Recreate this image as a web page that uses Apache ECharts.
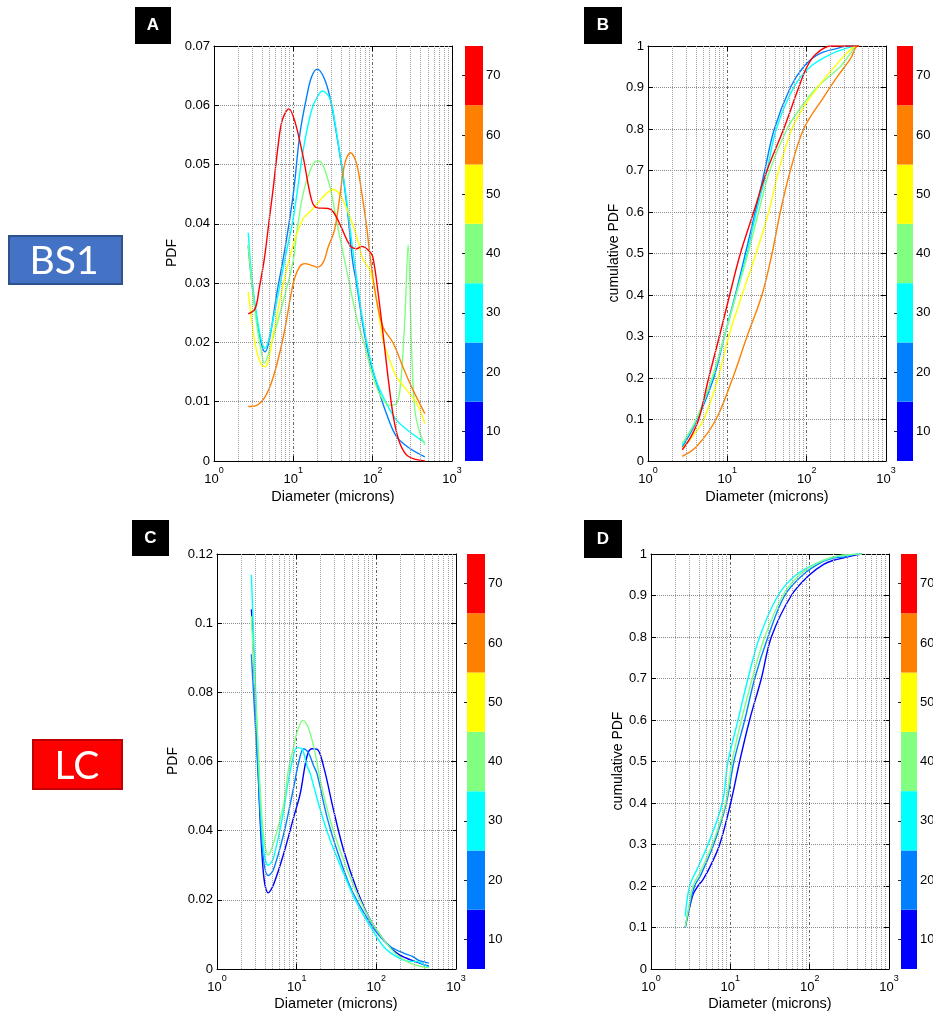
<!DOCTYPE html>
<html><head><meta charset="utf-8">
<script src="https://cdn.jsdelivr.net/npm/echarts@6/dist/echarts.min.js"></script>
<style>html,body{margin:0;padding:0;background:#fff}#c{width:933px;height:1015px}</style>
</head><body><div id="c"></div>
<script>
// ---------------- DATA ----------------
const levels = ['10','20','30','40','50','60','70'];
const levelColors = ['#0000ff','#0080ff','#00ffff','#80ff80','#ffff00','#ff8000','#ff0000'];
const minorGridX = [2,3,4,5,6,7,8,9,20,30,40,50,60,70,80,90,200,300,400,500,600,700,800,900];

// Panel A (BS1, PDF)
const pdfA_20 = [[2.7,0.0363],[3.0,0.030],[3.5,0.0235],[4.0,0.0195],[4.4,0.0184],[5.0,0.0205],[6.2,0.0283],[7.8,0.0356],[10,0.0451],[12.1,0.0552],[14.7,0.0614],[17,0.0648],[20,0.0661],[24,0.0648],[28.9,0.0614],[35,0.0552],[42.5,0.0479],[49,0.0412],[55.6,0.0339],[62.5,0.030],[76,0.0226],[92,0.017],[112,0.0131],[149,0.008],[200,0.0041],[295,0.0021],[455,0.0007]];
const pdfA_30 = [[2.7,0.0385],[3.0,0.031],[3.5,0.024],[4.0,0.020],[4.4,0.019],[5.0,0.021],[6.2,0.027],[7.8,0.034],[10,0.041],[13.3,0.0524],[17,0.0592],[20,0.0614],[23.3,0.0624],[29,0.0611],[33,0.0575],[38,0.0524],[44.6,0.0462],[51.5,0.0395],[62.5,0.031],[76,0.0232],[92,0.0176],[112,0.0134],[149,0.0097],[200,0.0069],[295,0.0049],[455,0.0031]];
const pdfA_40 = [[2.7,0.0365],[3.0,0.030],[3.5,0.0225],[4.0,0.018],[4.3,0.0165],[5.0,0.0187],[7.5,0.0271],[10,0.0339],[11,0.0384],[13.3,0.0451],[17,0.0496],[20,0.0506],[23,0.0502],[29,0.0462],[35,0.0406],[42.5,0.035],[49,0.031],[62.5,0.0243],[80,0.0193],[101,0.0142],[128,0.0108],[164,0.0094],[200,0.0097],[225,0.013],[255,0.0243],[280,0.0365],[310,0.0187],[340,0.0086],[390,0.0049],[455,0.0027]];
const pdfA_50 = [[2.7,0.0285],[3.3,0.0198],[3.86,0.0165],[4.4,0.0159],[5.6,0.0215],[7.5,0.030],[10,0.0365],[13.3,0.0409],[17,0.0423],[20,0.0434],[26,0.0451],[32,0.0458],[40,0.0446],[51.5,0.0412],[65,0.0372],[76,0.0339],[92,0.0322],[112,0.0271],[135,0.0204],[164,0.017],[200,0.0142],[268,0.012],[360,0.0097],[455,0.0063]];
const pdfA_60 = [[2.7,0.0092],[3.45,0.0094],[4.4,0.0108],[5.6,0.0142],[7.5,0.021],[10,0.030],[12,0.0328],[14,0.0333],[17,0.033],[20,0.0327],[24,0.0336],[27.5,0.0361],[33,0.0389],[38,0.044],[44.6,0.0502],[52.5,0.052],[62.5,0.0502],[72,0.0457],[84,0.0395],[94,0.0339],[112,0.0271],[135,0.0226],[183,0.0198],[240,0.0159],[322,0.012],[455,0.008]];
const pdfA_70 = [[2.7,0.0248],[3.3,0.0257],[3.7,0.029],[4.3,0.034],[5.0,0.041],[5.6,0.0462],[6.4,0.053],[7.25,0.0575],[8.8,0.0594],[10.5,0.0572],[13.3,0.0513],[17,0.044],[20,0.0427],[27.5,0.0426],[32,0.042],[40,0.0395],[51.5,0.0364],[62.5,0.0358],[73,0.0362],[89,0.0355],[100,0.0345],[118,0.028],[135,0.0215],[160,0.013],[185,0.007],[220,0.003],[280,0.0008],[455,0.0]];

// Panel B (BS1, cumulative PDF)
const cdfB_20 = [[2.7,0.033],[4.07,0.095],[6.73,0.2],[9.17,0.3],[12.6,0.4],[16.9,0.5],[22.5,0.6],[29.6,0.7],[39.1,0.8],[62.3,0.9],[91.6,0.95],[140,0.98],[250,0.995],[322,1.0],[455,1.0]];
const cdfB_30 = [[2.7,0.038],[4.07,0.1],[6.5,0.2],[9.17,0.3],[12.8,0.4],[17.7,0.5],[23.2,0.6],[31.6,0.7],[41.5,0.8],[68.6,0.9],[111,0.95],[200,0.98],[300,0.993],[431,1.0],[455,1.0]];
const cdfB_40 = [[2.7,0.042],[4.07,0.1],[6.41,0.2],[9.17,0.3],[12.9,0.4],[18.2,0.5],[24.8,0.6],[34.2,0.7],[56.5,0.8],[83,0.85],[134,0.9],[265,0.95],[350,0.98],[431,1.0],[455,1.0]];
const cdfB_50 = [[2.7,0.031],[3.5,0.055],[5.03,0.1],[7.63,0.2],[10.4,0.3],[15.3,0.4],[23.0,0.5],[33.2,0.6],[44.4,0.7],[65,0.8],[91.6,0.853],[149,0.909],[241,0.957],[350,0.99],[431,1.0],[455,1.0]];
const cdfB_60 = [[2.7,0.011],[4.1,0.035],[7.19,0.1],[11.7,0.2],[17.7,0.3],[27.3,0.4],[36.6,0.5],[46.5,0.6],[62.3,0.7],[91.6,0.8],[164,0.877],[241,0.925],[355,0.969],[439,1.0],[455,1.0]];
const cdfB_70 = [[2.7,0.027],[3.4,0.055],[4.35,0.1],[5.82,0.2],[7.93,0.3],[10.7,0.4],[14.6,0.5],[21.5,0.6],[31.6,0.7],[51.3,0.8],[79.3,0.9],[101,0.95],[130,0.98],[199,1.0],[455,1.0]];

// Panel C (LC, PDF)
const pdfC_10 = [[2.7,0.104],[2.8,0.098],[3.25,0.06],[3.78,0.029],[4.4,0.022],[5.1,0.0243],[6.9,0.0335],[9.2,0.044],[11.1,0.0508],[13.5,0.0616],[15.5,0.0637],[18,0.0636],[21.8,0.0585],[29,0.046],[38.8,0.0344],[57,0.0229],[84,0.0142],[123,0.0085],[181,0.0046],[265,0.0027],[390,0.0013],[455,0.0008]];
const pdfC_20 = [[2.7,0.091],[3.25,0.058],[3.78,0.033],[4.4,0.027],[5.1,0.0287],[6.9,0.0392],[9.2,0.0527],[10.6,0.0597],[12.2,0.0637],[14,0.0626],[16.3,0.0588],[18,0.0565],[24,0.044],[32,0.0344],[47,0.0238],[70,0.0162],[102,0.0104],[150,0.0065],[220,0.0046],[280,0.0037],[340,0.0025],[455,0.0017]];
const pdfC_30 = [[2.7,0.114],[3.25,0.065],[3.78,0.036],[4.4,0.030],[5.1,0.032],[6.9,0.046],[7.6,0.0525],[8.8,0.060],[10.1,0.064],[11.7,0.0636],[13.5,0.0587],[14.8,0.0565],[19.8,0.046],[26.3,0.0373],[38.8,0.0277],[57,0.019],[84,0.0123],[123,0.0065],[181,0.0035],[265,0.0022],[300,0.0022],[455,0.0005]];
const pdfC_40 = [[2.7,0.102],[3.25,0.066],[3.78,0.04],[4.4,0.033],[5.1,0.0363],[6.9,0.0479],[7.9,0.0578],[9.2,0.0645],[10.1,0.0684],[12,0.0719],[14,0.0698],[17,0.0626],[19.8,0.0546],[26.3,0.0431],[38.8,0.0315],[57,0.0219],[84,0.0142],[123,0.0085],[181,0.0041],[265,0.0017],[390,0.0006],[455,0.0004]];

// Panel D (LC, cumulative PDF)
const cdfD_10 = [[2.7,0.099],[3.0,0.14],[3.4,0.18],[3.91,0.2],[4.5,0.215],[5.5,0.245],[7.34,0.3],[10.1,0.4],[13.1,0.5],[17.5,0.6],[24.6,0.7],[32.9,0.8],[58.7,0.9],[100,0.95],[150,0.975],[200,0.985],[263,0.99],[390,0.998],[455,1.0]];
const cdfD_20 = [[2.7,0.1],[3.0,0.145],[3.55,0.2],[4.2,0.225],[6.17,0.3],[8.91,0.4],[11.1,0.5],[15.2,0.6],[20.3,0.7],[29.8,0.8],[48.4,0.9],[82.4,0.95],[140,0.98],[200,0.99],[280,0.993],[350,0.998],[455,1.0]];
const cdfD_30 = [[2.7,0.127],[3.07,0.2],[3.8,0.24],[5.23,0.3],[7.93,0.4],[9.35,0.5],[12.5,0.6],[16.7,0.7],[23.4,0.8],[39.9,0.9],[67.9,0.95],[130,0.98],[220,0.994],[350,0.999],[455,1.0]];
const cdfD_40 = [[2.7,0.1],[3.0,0.15],[3.38,0.2],[4.2,0.235],[5.93,0.3],[8.73,0.4],[10.5,0.5],[13.8,0.6],[18.9,0.7],[27.1,0.8],[46.1,0.9],[74.8,0.95],[130,0.98],[220,0.995],[350,0.999],[455,1.0]];

const yMaxA = 0.07, yStepA = 0.01;
const yMaxB = 1, yStepB = 0.1;
const yMaxC = 0.12, yStepC = 0.02;
const yMaxD = 1, yStepD = 0.1;
const xLabel = 'Diameter (microns)';

// ---------------- LAYOUT ----------------
const FONT = '"Liberation Sans", Arial, Helvetica, sans-serif';
const panels = [
  {letter:'A', box:[135,7,36,37], grid:{left:214,top:46,width:238,height:415}, cb:{left:465,top:46,width:18,height:415},
   yMax:yMaxA, yStep:yStepA, yName:'PDF', yNamePos:[172,253], xNamePos:[333,497],
   series:[[1,pdfA_20],[2,pdfA_30],[3,pdfA_40],[4,pdfA_50],[5,pdfA_60],[6,pdfA_70]]},
  {letter:'B', box:[584,7,38,37], grid:{left:648,top:46,width:238,height:415}, cb:{left:897,top:46,width:16,height:415},
   yMax:yMaxB, yStep:yStepB, yName:'cumulative PDF', yNamePos:[614,253], xNamePos:[767,497],
   series:[[1,cdfB_20],[2,cdfB_30],[3,cdfB_40],[4,cdfB_50],[5,cdfB_60],[6,cdfB_70]]},
  {letter:'C', box:[132,520,37,36], grid:{left:217,top:554,width:239,height:415}, cb:{left:467,top:554,width:18,height:415},
   yMax:yMaxC, yStep:yStepC, yName:'PDF', yNamePos:[173,761], xNamePos:[336,1004],
   series:[[0,pdfC_10],[1,pdfC_20],[2,pdfC_30],[3,pdfC_40]]},
  {letter:'D', box:[584,520,38,38], grid:{left:651,top:554,width:238,height:415}, cb:{left:901,top:554,width:16,height:415},
   yMax:yMaxD, yStep:yStepD, yName:'cumulative PDF', yNamePos:[618,761], xNamePos:[770,1004],
   series:[[0,cdfD_10],[1,cdfD_20],[2,cdfD_30],[3,cdfD_40]]}
];

const option = {backgroundColor:'#fff', animation:false, textStyle:{fontFamily:FONT},
  grid:[], xAxis:[], yAxis:[], series:[], graphic:[]};

const tickStyle = {show:true, inside:true, length:5, lineStyle:{color:'#000', width:1}};
const lineAx = {show:true, onZero:false, lineStyle:{color:'#000', width:1}};

panels.forEach(p => {
  const gMain = option.grid.length;
  option.grid.push(Object.assign({show:false, outerBoundsMode:'none'}, p.grid));
  const gCb = option.grid.length;
  option.grid.push(Object.assign({show:false, outerBoundsMode:'none'}, p.cb));

  const xB = option.xAxis.length;
  option.xAxis.push({type:'log', logBase:10, min:1, max:1000, gridIndex:gMain, position:'bottom',
    axisLine:lineAx, axisTick:tickStyle,
    axisLabel:{show:true, margin:5, color:'#000', fontFamily:FONT,
      formatter: v => '{b|10}{s|' + Math.round(Math.log10(v)) + '}',
      rich:{b:{fontSize:13, color:'#000', fontFamily:FONT}, s:{fontSize:9, color:'#000', fontFamily:FONT, padding:[0,0,17,0]}}},
    splitLine:{show:true, lineStyle:{color:'#666', width:1, type:[3,2,1,2]}}});
  option.xAxis.push({type:'log', logBase:10, min:1, max:1000, gridIndex:gMain, position:'top',
    axisLine:lineAx, axisTick:tickStyle, axisLabel:{show:false}, splitLine:{show:false}});
  const xC = option.xAxis.length;
  option.xAxis.push({type:'value', gridIndex:gCb, min:0, max:1, show:false});

  const yL = option.yAxis.length;
  option.yAxis.push({type:'value', gridIndex:gMain, min:0, max:p.yMax, interval:p.yStep, position:'left',
    axisLine:lineAx, axisTick:tickStyle,
    axisLabel:{fontSize:13, color:'#000', margin:4, fontFamily:FONT},
    splitLine:{show:true, lineStyle:{color:'#8a8a8a', width:1, type:'dotted'}}});
  option.yAxis.push({type:'value', gridIndex:gMain, min:0, max:p.yMax, interval:p.yStep, position:'right',
    axisLine:lineAx, axisTick:tickStyle, axisLabel:{show:false}, splitLine:{show:false}});
  const yC = option.yAxis.length;
  option.yAxis.push({type:'category', gridIndex:gCb, data:levels, position:'right',
    axisLine:{show:false}, axisTick:{show:true, inside:true, alignWithLabel:true, length:3, lineStyle:{color:'#222'}},
    axisLabel:{fontSize:13, color:'#000', margin:3, fontFamily:FONT}, splitLine:{show:false}});
  option.yAxis.push({type:'category', gridIndex:gCb, data:levels, position:'left',
    axisLine:{show:false}, axisTick:{show:true, inside:true, alignWithLabel:true, length:3, lineStyle:{color:'#222'}},
    axisLabel:{show:false}, splitLine:{show:false}});

  // colorbar
  option.series.push({type:'bar', xAxisIndex:xC, yAxisIndex:yC, silent:true, barWidth:'100%', barCategoryGap:'0%',
    data: levels.map((l,k) => ({value:1, itemStyle:{color:levelColors[k]}}))});

  // minor vertical grid lines
  option.series.push({type:'line', xAxisIndex:xB, yAxisIndex:yL, data:[], silent:true, z:1,
    markLine:{silent:true, symbol:'none', label:{show:false}, animation:false,
      lineStyle:{color:'#a0a0a0', width:1, type:'dotted'},
      data: minorGridX.map(v => ({xAxis:v}))}});

  // data lines
  p.series.forEach(([ci, arr]) => {
    option.series.push({type:'line', name:levels[ci], xAxisIndex:xB, yAxisIndex:yL, data:arr,
      showSymbol:false, symbol:'none', smooth:0.35, z:3,
      lineStyle:{color:levelColors[ci], width:1.4}, itemStyle:{color:levelColors[ci]}});
  });

  // letter box
  const [bx,by,bw,bh] = p.box;
  option.graphic.push({type:'rect', shape:{x:bx,y:by,width:bw,height:bh}, style:{fill:'#000'}, silent:true});
  option.graphic.push({type:'text', x:bx+bw/2, y:by+bh/2, silent:true,
    style:{text:p.letter, fill:'#fff', fontSize:17, fontWeight:'bold', fontFamily:FONT, align:'center', verticalAlign:'middle'}});
  // axis names
  option.graphic.push({type:'text', x:p.yNamePos[0], y:p.yNamePos[1], rotation:Math.PI/2, silent:true,
    style:{text:p.yName, fill:'#000', fontSize:14, fontFamily:FONT, align:'center', verticalAlign:'middle'}});
  option.graphic.push({type:'text', x:p.xNamePos[0], y:p.xNamePos[1], silent:true,
    style:{text:xLabel, fill:'#000', fontSize:14.5, fontFamily:FONT, align:'center', verticalAlign:'middle'}});
});

// row labels
option.graphic.push({type:'rect', shape:{x:9,y:236,width:113,height:48}, style:{fill:'#4472c4', stroke:'#2f528f', lineWidth:2}, silent:true});
option.graphic.push({type:'text', x:64, y:261, silent:true,
  style:{text:'BS1', fill:'#fff', fontSize:39, fontFamily:'Lato, "Open Sans", sans-serif', align:'center', verticalAlign:'middle'}});
option.graphic.push({type:'rect', shape:{x:33,y:740,width:89,height:49}, style:{fill:'#ff0000', stroke:'#c00000', lineWidth:2}, silent:true});
option.graphic.push({type:'text', x:77, y:766, silent:true,
  style:{text:'LC', fill:'#fff', fontSize:39, fontFamily:'Lato, "Open Sans", sans-serif', align:'center', verticalAlign:'middle'}});

const chart = echarts.init(document.getElementById('c'), null, {renderer:'canvas'});
chart.setOption(option);
</script>
</body></html>
